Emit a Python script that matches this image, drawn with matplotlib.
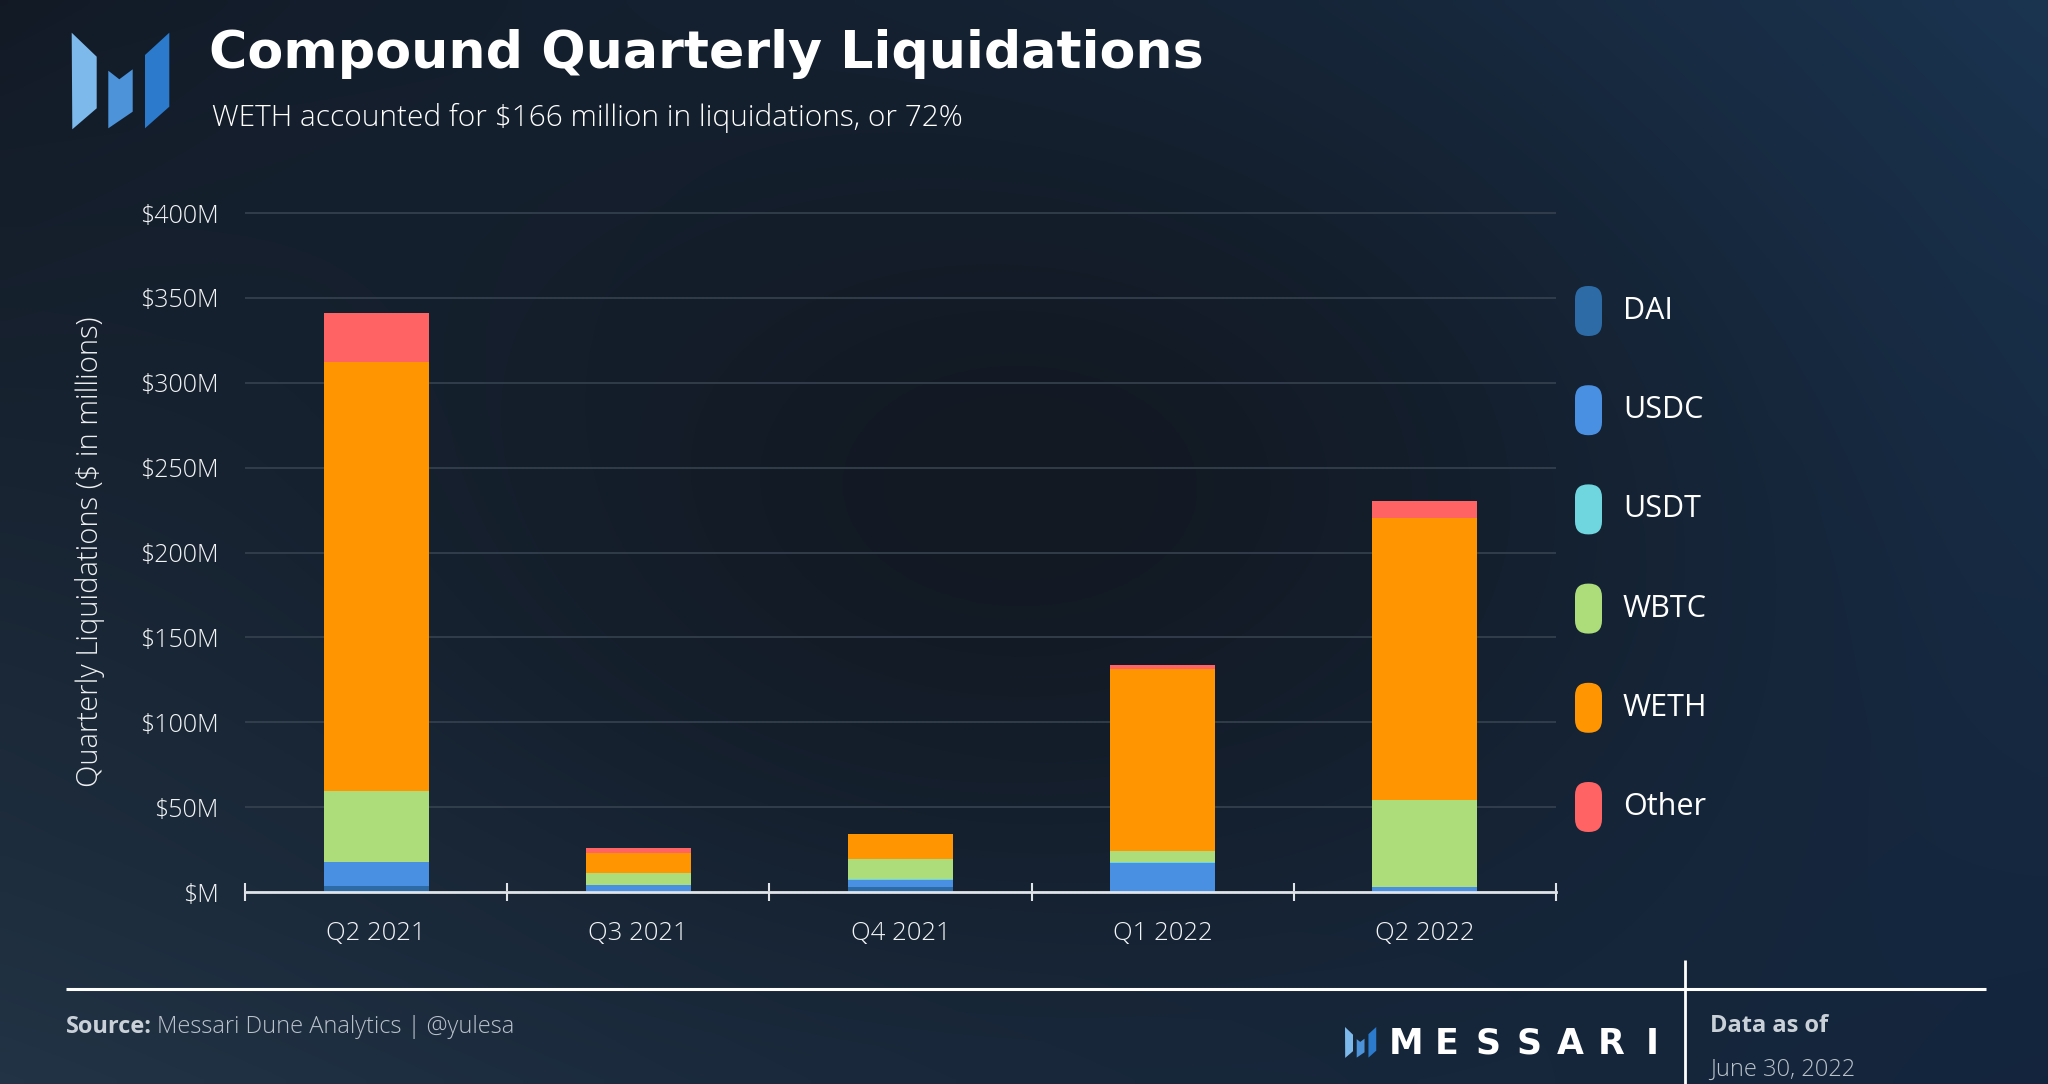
import numpy as np
import matplotlib
matplotlib.use("Agg")
import matplotlib.pyplot as plt
from matplotlib.patches import Polygon, FancyBboxPatch

plt.rcParams['font.family'] = ['Open Sans', 'DejaVu Sans']

# data ($ millions)
quarters = ["Q2 2021", "Q3 2021", "Q4 2021", "Q1 2022", "Q2 2022"]
series = ["DAI", "USDC", "USDT", "WBTC", "WETH", "Other"]
colors = ["#2d6ba6", "#4a90e2", "#6fd6e0", "#addc7a", "#ff9500", "#ff6363"]
dai = [3.3, 0.3, 2.7, 0.2, 0.3]
usdc = [14.3, 3.8, 4.5, 16.9, 2.5]
usdt = [0.2, 0.3, 0.2, 0.3, 0.3]
wbtc = [41.6, 6.5, 12.0, 6.7, 51.2]
weth = [253.0, 12.2, 14.5, 107.2, 166.0]
other = [28.5, 2.7, 0.3, 2.3, 10.0]
yticks = [0, 50, 100, 150, 200, 250, 300, 350, 400]

W, H = 2048, 1084
fig = plt.figure(figsize=(W / 100, H / 100), dpi=100)

# background gradient + pixel-space overlay
bg = fig.add_axes([0, 0, 1, 1])
gx, gy = np.meshgrid(np.linspace(0, 1, 256), np.linspace(0, 1, 136))
tl = np.array([0x12, 0x1a, 0x26]) / 255
tr = np.array([0x1b, 0x35, 0x52]) / 255
bl = np.array([0x22, 0x34, 0x46]) / 255
br = np.array([0x13, 0x25, 0x3d]) / 255
mid = np.array([0x12, 0x19, 0x23]) / 255
gx3, gy3 = gx[..., None], gy[..., None]
img = (tl * (1 - gx3) * (1 - gy3) + tr * gx3 * (1 - gy3)
       + bl * (1 - gx3) * gy3 + br * gx3 * gy3)
wgt = np.exp(-((gx3 - 0.5) / 0.35) ** 2 - ((gy3 - 0.45) / 0.45) ** 2)
img = img * (1 - wgt) + mid * wgt
bg.imshow(img, extent=(0, W, H, 0), aspect='auto', interpolation='bilinear')
bg.set_xlim(0, W)
bg.set_ylim(H, 0)
bg.axis('off')


def draw_mark(x0, y0, s):
    shapes = [
        ([(0, 0), (25, 24), (25, 75.6), (0.6, 96.6)], "#7db9ea"),
        ([(36.6, 38), (47.6, 46.6), (61, 36.6), (61, 79), (36.6, 95.6)], "#4d93da"),
        ([(73.3, 22.3), (97.6, 0), (97.6, 74), (73.3, 95.6)], "#2b7acb"),
    ]
    for pts, c in shapes:
        bg.add_patch(Polygon([(x0 + px * s, y0 + py * s) for px, py in pts],
                             closed=True, facecolor=c, edgecolor='none'))


def fit(t, width):
    r = fig.canvas.get_renderer()
    w = t.get_window_extent(r).width
    t.set_fontsize(t.get_fontsize() * width / w)


draw_mark(71.7, 32.7, 1.0)

title = bg.text(209, 68, "Compound Quarterly Liquidations", color="white",
                fontsize=38, fontweight='bold', family=['DejaVu Sans'], va='baseline')
fit(title, 994)
sub = bg.text(212, 126, "WETH accounted for $166 million in liquidations, or 72%",
              color="white", fontsize=20, fontweight='light', va='baseline')
fit(sub, 753)

# main chart
ax = fig.add_axes([245 / W, 1 - 892 / H, (1556 - 245) / W, (892 - 212) / H])
ax.patch.set_alpha(0)
x = np.arange(len(quarters))
bottom = np.zeros(len(quarters))
for name, vals, c in zip(series, [dai, usdc, usdt, wbtc, weth, other], colors):
    ax.bar(x, vals, 0.4, bottom=bottom, color=c, label=name, zorder=2)
    bottom += np.array(vals)

ax.set_xlim(-0.5, 4.5)
ax.set_ylim(0, 400.6)
ax.set_yticks(yticks)
ax.set_yticklabels([f"${v}M" if v else "$M" for v in yticks])
ax.yaxis.grid(True, color="#36424f", lw=1.2)
ax.set_axisbelow(True)
ax.tick_params(axis='y', length=0, pad=19, labelsize=18, labelcolor="#f2f4f6")
for lbl in ax.get_yticklabels():
    lbl.set_fontweight('light')

ax.set_xticks(np.arange(-0.5, 5, 1))
ax.set_xticklabels([])
ax.set_xticks(x, minor=True)
ax.set_xticklabels(quarters, minor=True, fontweight='light')
ax.tick_params(axis='x', which='major', direction='inout', length=13, width=1.5, color="#e0e4e8")
ax.tick_params(axis='x', which='minor', length=0, pad=21, labelsize=18.5, labelcolor="#f2f4f6")
for s in ['top', 'right', 'left']:
    ax.spines[s].set_visible(False)
ax.spines['bottom'].set_color("#e0e4e8")
ax.spines['bottom'].set_linewidth(2)

bg.text(90, 552, "Quarterly Liquidations ($ in millions)", rotation=90, color="#eef0f2",
        fontsize=21, fontweight='light', ha='center', va='center')

# legend
for i, (name, c) in enumerate(zip(series, colors)):
    yc = 311 + 99.2 * i
    bg.add_patch(FancyBboxPatch((1575, yc - 25), 27, 50,
                                boxstyle="round,pad=0,rounding_size=13",
                                facecolor=c, edgecolor='none'))
    bg.text(1623, yc, name, color="white", fontsize=22, va='center')

# footer
bg.plot([66, 1986], [989, 989], color="white", lw=2.2, solid_capstyle='butt')
bg.plot([1685, 1685], [960, 1084], color="white", lw=2, solid_capstyle='butt')
src = bg.text(66, 1027, "Source:", color="#c9d0d8", fontsize=17, fontweight='bold', va='center')
r = fig.canvas.get_renderer()
sw = src.get_window_extent(r).width
bg.text(66 + sw + 5, 1027, "Messari Dune Analytics | @yulesa", color="#b9c1ca",
        fontsize=17, fontweight='light', va='center')

draw_mark(1345, 1027, 0.32)
for i, ch in enumerate("MESSARI"):
    bg.text(1406 + i * 41, 1044, ch, color="white", fontsize=25, fontweight='bold',
            family=['DejaVu Sans'], ha='center', va='center')

bg.text(1710, 1026, "Data as of", color="#c9d0d8", fontsize=17, fontweight='bold', va='center')
bg.text(1710, 1070, "June 30, 2022", color="#b9c1ca", fontsize=17, fontweight='light', va='center')

fig.savefig("out.png", dpi=100)
